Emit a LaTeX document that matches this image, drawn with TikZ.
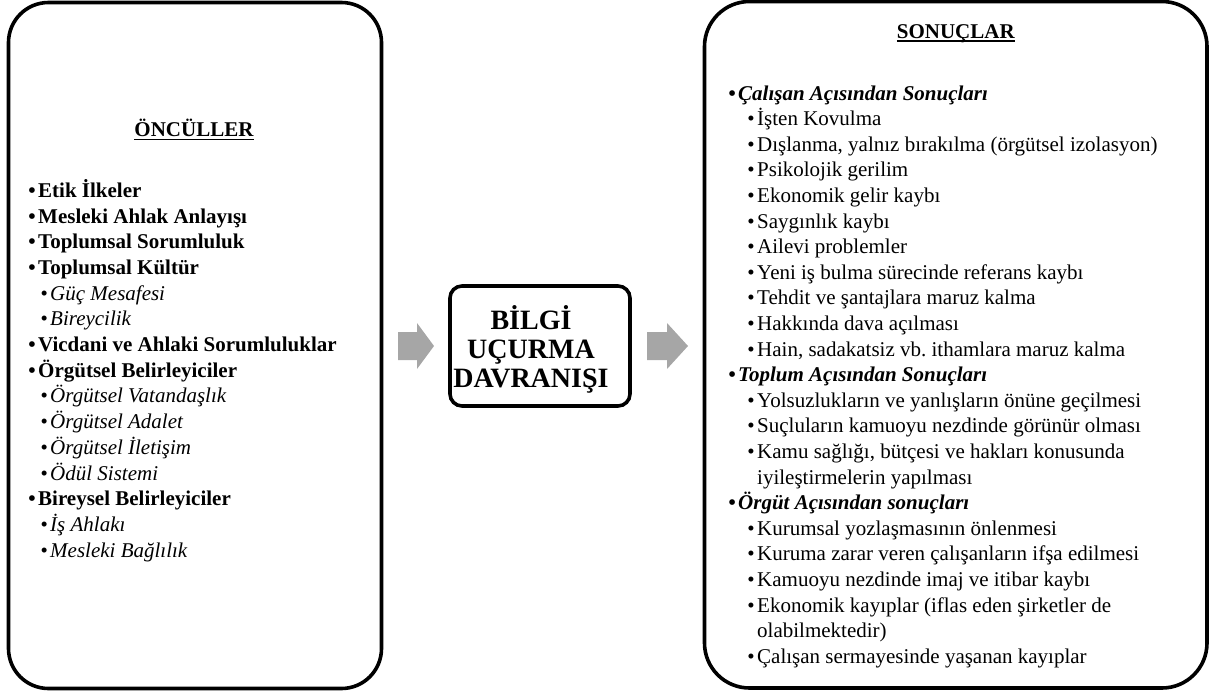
\documentclass[tikz,border=0pt]{standalone}
\usepackage{fontspec}
\setmainfont{Liberation Serif}
\frenchspacing
\definecolor{arrowgray}{RGB}{166,166,166}
\newcommand{\bul}{\llap{•\kern2.5pt}}
\newcommand{\ulx}[1]{\setbox0\hbox{#1}\rlap{\rule[-3.4pt]{\wd0}{1.4pt}}\box0}
\tikzset{
  body/.style={font=\fontsize{21}{25.7}\selectfont, inner sep=0pt, anchor=base west},
  lb/.style={body, font=\fontsize{21}{25.7}\selectfont\bfseries, execute at begin node=\bul},
  li/.style={body, font=\fontsize{21}{25.7}\selectfont\itshape, execute at begin node=\bul},
  rh/.style={body, font=\fontsize{21}{25.7}\selectfont\bfseries\itshape, execute at begin node=\bul},
  ri/.style={body, execute at begin node=\bul},
  rc/.style={body},
  head/.style={font=\fontsize{21}{25.7}\selectfont\bfseries, inner sep=0pt, anchor=base},
  midtxt/.style={font=\fontsize{28}{28.8}\selectfont\bfseries, inner sep=0pt, anchor=base},
  bigbox/.style={draw, line width=3.6pt, rectangle, inner sep=0pt},
  blockarrow/.style={fill=arrowgray, draw=none}
}
\begin{document}
\begin{tikzpicture}[x=1pt, y=-1pt]
\path[use as bounding box] (0,0) rectangle (1211,691);

% boxes
\node[bigbox, rounded corners=40pt, minimum width=373pt, minimum height=686pt] (lbox) at (195,345.5) {};
\node[bigbox, rounded corners=45pt, minimum width=502.5pt, minimum height=686.5pt] (rbox) at (955.75,344.75) {};
\node[bigbox, rounded corners=12pt, minimum width=180pt, minimum height=120pt] (mid) at (540,346) {};

% block arrows
\fill[blockarrow] (398,332) -- (417,332) -- (417,323) -- (434,346) -- (417,369) -- (417,360) -- (398,360) -- cycle;
\fill[blockarrow] (647,332) -- (667,332) -- (667,323) -- (688,346) -- (667,369) -- (667,360) -- (647,360) -- cycle;

% centre text
\node[midtxt] (m1) at (531,329) {BİLGİ};
\node[midtxt] (m2) at (531,358) {UÇURMA};
\node[midtxt] (m3) at (531,387) {DAVRANIŞI};

% left list
\node[head] (lh) at (194,136.7) {\ulx{ÖNCÜLLER}};
\node[lb] (l0)  at (38,197.3) {Etik İlkeler};
\node[lb] (l1)  at (38,223.0) {Mesleki Ahlak Anlayışı};
\node[lb] (l2)  at (38,248.7) {Toplumsal Sorumluluk};
\node[lb] (l3)  at (38,274.4) {Toplumsal Kültür};
\node[li] (l4)  at (50,300.1) {Güç Mesafesi};
\node[li] (l5)  at (50,325.8) {Bireycilik};
\node[lb] (l6)  at (38,351.5) {Vicdani ve Ahlaki Sorumluluklar};
\node[lb] (l7)  at (38,377.2) {Örgütsel Belirleyiciler};
\node[li] (l8)  at (50,402.9) {Örgütsel Vatandaşlık};
\node[li] (l9)  at (50,428.6) {Örgütsel Adalet};
\node[li] (l10) at (50,454.3) {Örgütsel İletişim};
\node[li] (l11) at (50,480.0) {Ödül Sistemi};
\node[lb] (l12) at (38,505.7) {Bireysel Belirleyiciler};
\node[li] (l13) at (50,531.4) {İş Ahlakı};
\node[li] (l14) at (50,557.1) {Mesleki Bağlılık};

% right list
\node[head] (rhd) at (955.8,38.3) {\ulx{SONUÇLAR}};
\node[rh] (r0)  at (738,100.0) {Çalışan Açısından Sonuçları};
\node[ri] (r1)  at (757,125.6) {İşten Kovulma};
\node[ri] (r2)  at (757,151.2) {Dışlanma, yalnız bırakılma (örgütsel izolasyon)};
\node[ri] (r3)  at (757,176.8) {Psikolojik gerilim};
\node[ri] (r4)  at (757,202.4) {Ekonomik gelir kaybı};
\node[ri] (r5)  at (757,228.0) {Saygınlık kaybı};
\node[ri] (r6)  at (757,253.6) {Ailevi problemler};
\node[ri] (r7)  at (757,279.2) {Yeni iş bulma sürecinde referans kaybı};
\node[ri] (r8)  at (757,304.8) {Tehdit ve şantajlara maruz kalma};
\node[ri] (r9)  at (757,330.4) {Hakkında dava açılması};
\node[ri] (r10) at (757,356.0) {Hain, sadakatsiz vb. ithamlara maruz kalma};
\node[rh] (r11) at (738,381.6) {Toplum Açısından Sonuçları};
\node[ri] (r12) at (757,407.2) {Yolsuzlukların ve yanlışların önüne geçilmesi};
\node[ri] (r13) at (757,432.8) {Suçluların kamuoyu nezdinde görünür olması};
\node[ri] (r14) at (757,458.4) {Kamu sağlığı, bütçesi ve hakları konusunda};
\node[rc] (r15) at (757,484.0) {iyileştirmelerin yapılması};
\node[rh] (r16) at (738,509.6) {Örgüt Açısından sonuçları};
\node[ri] (r17) at (757,535.2) {Kurumsal yozlaşmasının önlenmesi};
\node[ri] (r18) at (757,560.8) {Kuruma zarar veren çalışanların ifşa edilmesi};
\node[ri] (r19) at (757,586.4) {Kamuoyu nezdinde imaj ve itibar kaybı};
\node[ri] (r20) at (757,612.0) {Ekonomik kayıplar (iflas eden şirketler de};
\node[rc] (r21) at (757,637.6) {olabilmektedir)};
\node[ri] (r22) at (757,663.2) {Çalışan sermayesinde yaşanan kayıplar};
\end{tikzpicture}
\end{document}
